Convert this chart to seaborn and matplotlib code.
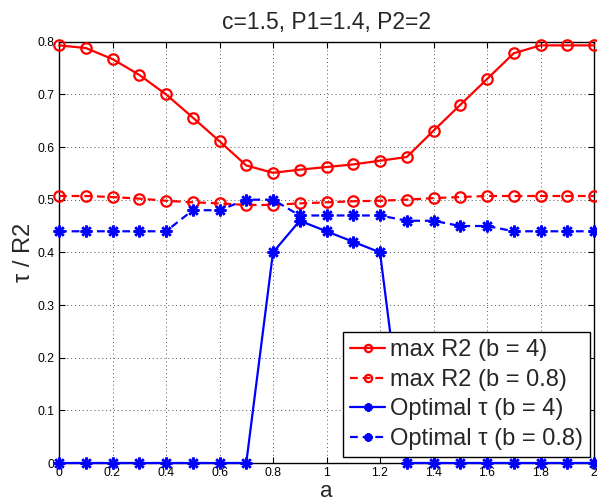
import numpy as np
import pandas as pd
import matplotlib
matplotlib.use("Agg")
import matplotlib.pyplot as plt
import seaborn as sns

a_vals = [0.0, 0.1, 0.2, 0.3, 0.4, 0.5, 0.6, 0.7, 0.8, 0.9, 1.0,
          1.1, 1.2, 1.3, 1.4, 1.5, 1.6, 1.7, 1.8, 1.9, 2.0]
max_r2_b4 = [0.793, 0.788, 0.767, 0.737, 0.700, 0.656, 0.611, 0.565, 0.551, 0.557, 0.562,
             0.567, 0.574, 0.581, 0.631, 0.680, 0.729, 0.778, 0.793, 0.793, 0.793]
max_r2_b08 = [0.507, 0.507, 0.505, 0.502, 0.498, 0.495, 0.493, 0.490, 0.490, 0.493, 0.495,
              0.497, 0.498, 0.500, 0.503, 0.505, 0.507, 0.507, 0.507, 0.507, 0.507]
tau_b4 = [0.0, 0.0, 0.0, 0.0, 0.0, 0.0, 0.0, 0.0, 0.40, 0.46, 0.44,
          0.42, 0.40, 0.0, 0.0, 0.0, 0.0, 0.0, 0.0, 0.0, 0.0]
tau_b08 = [0.44, 0.44, 0.44, 0.44, 0.44, 0.48, 0.48, 0.50, 0.50, 0.47, 0.47,
           0.47, 0.47, 0.46, 0.46, 0.45, 0.45, 0.44, 0.44, 0.44, 0.44]

series_labels = ["max R2 (b = 4)", "max R2 (b = 0.8)",
                 "Optimal \u03c4 (b = 4)", "Optimal \u03c4 (b = 0.8)"]
x_ticks = [0, 0.2, 0.4, 0.6, 0.8, 1, 1.2, 1.4, 1.6, 1.8, 2]
x_tick_labels = ["0", "0.2", "0.4", "0.6", "0.8", "1", "1.2", "1.4", "1.6", "1.8", "2"]
y_ticks = [0, 0.1, 0.2, 0.3, 0.4, 0.5, 0.6, 0.7, 0.8]
y_tick_labels = ["0", "0.1", "0.2", "0.3", "0.4", "0.5", "0.6", "0.7", "0.8"]

sns.set_style("white")
plt.rcParams["font.family"] = ["Liberation Sans", "DejaVu Sans"]

fig = plt.figure(figsize=(5.97, 5.01), dpi=100)
ax = fig.add_axes([59 / 597, 1 - 463 / 501, (594 - 59) / 597, (463 - 41.7) / 501])

asterisk = (8, 2, 0)
dashed = (0, (3.5, 2.2))
styles = [
    dict(color="red", linestyle="-", marker="o", markersize=7.5,
         markerfacecolor="none", markeredgecolor="red", markeredgewidth=1.6),
    dict(color="red", linestyle=dashed, marker="o", markersize=7.5,
         markerfacecolor="none", markeredgecolor="red", markeredgewidth=1.6),
    dict(color="blue", linestyle="-", marker=asterisk, markersize=8.5,
         markeredgecolor="blue", markeredgewidth=1.8),
    dict(color="blue", linestyle=dashed, marker=asterisk, markersize=8.5,
         markeredgecolor="blue", markeredgewidth=1.8),
]

for values, label, st in zip([max_r2_b4, max_r2_b08, tau_b4, tau_b08], series_labels, styles):
    sns.lineplot(x=a_vals, y=values, ax=ax, label=label, linewidth=1.6,
                 clip_on=False, zorder=3, **st)

ax.set_xlim(0, 2)
ax.set_ylim(0, 0.8)
ax.set_xticks(x_ticks)
ax.set_xticklabels(x_tick_labels)
ax.set_yticks(y_ticks)
ax.set_yticklabels(y_tick_labels)
ax.tick_params(direction="in", length=4, width=0.8, labelsize=8.7, pad=3,
               top=True, right=True, bottom=True, left=True, colors="black")
ax.grid(True, linestyle=(0, (1, 3)), color="#555555", linewidth=0.7)
for sp in ax.spines.values():
    sp.set_visible(True)
    sp.set_color("black")
    sp.set_linewidth(1.0)

ax.set_title("c=1.5, P1=1.4, P2=2", fontsize=16.5, pad=9)
ax.set_xlabel("a", fontsize=16, labelpad=1)
ax.set_ylabel("\u03c4 / R2", fontsize=17, labelpad=2)

leg = ax.legend(loc="lower right", fontsize=17, frameon=True, fancybox=False,
                borderaxespad=0.0, handlelength=1.45, handletextpad=0.22,
                labelspacing=0.32, borderpad=0.3, markerscale=0.7,
                bbox_to_anchor=(1 - 4 / 535, 6 / 421.3))
leg.get_frame().set_edgecolor("black")
leg.get_frame().set_linewidth(1.0)
leg.get_frame().set_alpha(1.0)
leg.set_zorder(5)

fig.savefig("out.png", dpi=100)
